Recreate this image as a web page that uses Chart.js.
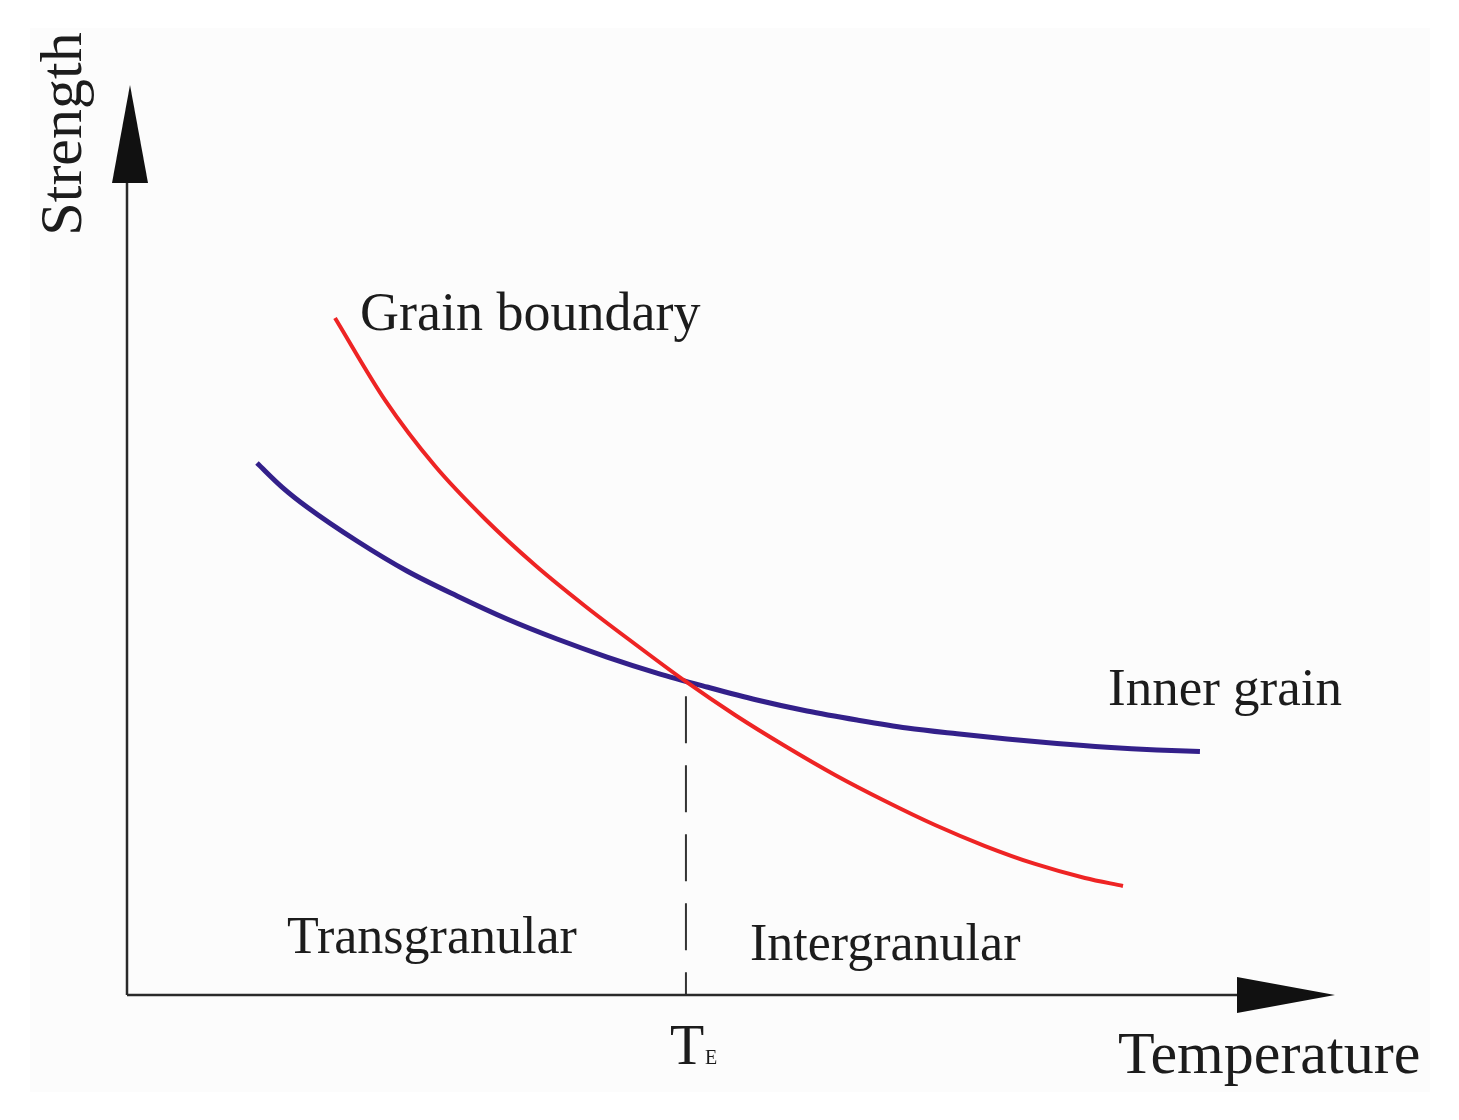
<!DOCTYPE html>
<html>
<head>
<meta charset="utf-8">
<script src="https://cdn.jsdelivr.net/npm/chart.js@4/dist/chart.umd.min.js"></script>
<style>
  html, body { margin: 0; padding: 0; background: #ffffff; }
  #wrap { width: 1459px; height: 1120px; }
</style>
</head>
<body>
<div id="wrap"><canvas id="strength_chart" width="1459" height="1120"></canvas></div>
<script>
// curves (temperature 0-100, strength 0-100, arbitrary units)
const boundaryTemp = [17.22, 21.36, 25.50, 29.64, 33.77, 37.91, 42.05, 46.19, 50.33, 54.47, 58.61, 62.75, 66.89, 71.03, 75.17, 79.30, 82.45];
const boundaryStrength = [74.40, 65.38, 58.13, 52.31, 47.25, 42.75, 38.57, 34.51, 30.77, 27.36, 24.18, 21.32, 18.68, 16.37, 14.40, 12.86, 11.98];

const innerTemp = [10.76, 12.83, 14.90, 19.04, 23.18, 27.32, 31.46, 35.60, 39.74, 43.87, 48.01, 52.15, 56.29, 60.43, 64.57, 68.71, 72.85, 76.99, 81.13, 85.26, 88.82];
const innerStrength = [58.46, 55.82, 53.63, 49.89, 46.59, 43.85, 41.32, 39.12, 37.14, 35.38, 33.85, 32.42, 31.21, 30.22, 29.34, 28.70, 28.13, 27.63, 27.22, 26.92, 26.75];

// equicohesive temperature marker
const equiTemp = [46.27, 46.27];
const equiStrength = [34.48, 0];

function toPoints(xs, ys) {
  return xs.map((x, i) => ({x: x, y: ys[i]}));
}

const sketchDecor = {
  id: 'sketchDecor',
  beforeDraw(chart) {
    const ctx = chart.ctx;
    ctx.save();
    ctx.fillStyle = '#fcfcfc';
    ctx.fillRect(30, 28, 1400, 1064);
    ctx.restore();
  },
  afterDraw(chart) {
    const ctx = chart.ctx;
    const xs = chart.scales.x;
    const ys = chart.scales.y;
    const x0 = xs.getPixelForValue(0);
    const y0 = ys.getPixelForValue(0);
    const xEnd = xs.getPixelForValue(100);
    const yEnd = ys.getPixelForValue(100);
    const head = 98, half = 18;

    ctx.save();
    ctx.strokeStyle = '#2a2a2a';
    ctx.fillStyle = '#111111';
    ctx.lineWidth = 2.5;
    ctx.beginPath();
    ctx.moveTo(x0, y0);
    ctx.lineTo(x0, yEnd + head);
    ctx.moveTo(x0, y0);
    ctx.lineTo(xEnd - head, y0);
    ctx.stroke();

    // arrow heads
    ctx.beginPath();
    ctx.moveTo(x0 + 3, yEnd);
    ctx.lineTo(x0 + 3 + half, yEnd + head);
    ctx.lineTo(x0 + 3 - half, yEnd + head);
    ctx.closePath();
    ctx.fill();
    ctx.beginPath();
    ctx.moveTo(xEnd, y0);
    ctx.lineTo(xEnd - head, y0 - half);
    ctx.lineTo(xEnd - head, y0 + half);
    ctx.closePath();
    ctx.fill();

    // labels
    ctx.fillStyle = '#1c1c1c';
    ctx.textBaseline = 'alphabetic';
    ctx.textAlign = 'left';
    ctx.font = '54px "Liberation Serif", "Times New Roman", serif';
    ctx.fillText('Grain boundary', 360, 330);
    ctx.font = '53px "Liberation Serif", "Times New Roman", serif';
    ctx.fillText('Inner grain', 1108, 705);
    ctx.font = '52px "Liberation Serif", "Times New Roman", serif';
    ctx.fillText('Transgranular', 287, 953);
    ctx.fillText('Intergranular', 750, 960);
    ctx.font = '60px "Liberation Serif", "Times New Roman", serif';
    ctx.fillText('Temperature', 1118, 1073);

    // T with subscript E
    const teX = xs.getPixelForValue(equiTemp[0]);
    ctx.font = '56px "Liberation Serif", "Times New Roman", serif';
    ctx.fillText('T', teX - 16, 1064);
    ctx.font = '20px "Liberation Serif", "Times New Roman", serif';
    ctx.fillText('E', teX + 19, 1064);

    // rotated axis title
    ctx.translate(81, 134);
    ctx.rotate(-Math.PI / 2);
    ctx.textAlign = 'center';
    ctx.font = '60px "Liberation Serif", "Times New Roman", serif';
    ctx.fillText('Strength', 0, 0);
    ctx.restore();
  }
};

function render_graph() {
  const graph = document.getElementById('strength_chart');
  return new Chart(graph, {
    type: 'line',
    data: {
      datasets: [
        {
          label: 'Grain boundary',
          data: toPoints(boundaryTemp, boundaryStrength),
          borderColor: '#ee2424',
          borderWidth: 4,
          pointRadius: 0,
          cubicInterpolationMode: 'monotone',
          fill: false
        },
        {
          label: 'Inner grain',
          data: toPoints(innerTemp, innerStrength),
          borderColor: '#33208a',
          borderWidth: 5,
          pointRadius: 0,
          cubicInterpolationMode: 'monotone',
          fill: false
        },
        {
          label: 'TE',
          data: toPoints(equiTemp, equiStrength),
          borderColor: '#333333',
          borderWidth: 2,
          borderDash: [47, 22],
          borderDashOffset: 54,
          pointRadius: 0,
          fill: false
        }
      ]
    },
    options: {
      responsive: false,
      animation: false,
      devicePixelRatio: 1,
      layout: { padding: { left: 127, right: 124, top: 85, bottom: 125 } },
      scales: {
        x: { type: 'linear', min: 0, max: 100, display: false },
        y: { type: 'linear', min: 0, max: 100, display: false }
      },
      plugins: {
        legend: { display: false },
        tooltip: { enabled: false }
      }
    },
    plugins: [sketchDecor]
  });
}

render_graph();
</script>
</body>
</html>
